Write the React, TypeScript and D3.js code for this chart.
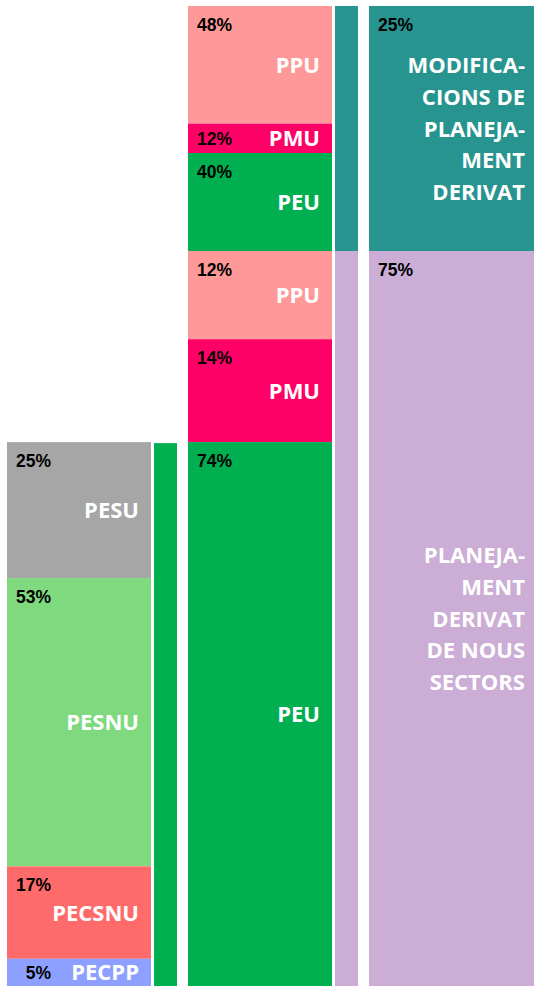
import React from "react";
import * as d3 from "d3";

const topNames = ["MODIFICA-\nCIONS DE\nPLANEJA-\nMENT\nDERIVAT", "PLANEJA-\nMENT\nDERIVAT\nDE NOUS\nSECTORS"];
const topValues = [25, 75];
const topColors = ["#279490", "#CBADD6"];

const midNames = ["PPU", "PMU", "PEU"];
const midValuesMod = [48, 12, 40];
const midValuesNous = [12, 14, 74];
const midColors = ["#FF9999", "#FF0066", "#00B050"];

const leftNames = ["PESU", "PESNU", "PECSNU", "PECPP"];
const leftValues = [25, 53, 17, 5];
const leftColors = ["#A6A6A6", "#7FD97F", "#FF6B6B", "#8EA0FF"];

const W = 534;
const H = 986;

type Seg = { name: string; value: number; color: string; y0: number; y1: number };

function stackSegs(names: string[], values: number[], colors: string[], r0: number, r1: number): Seg[] {
  const total = d3.sum(values);
  const y = d3.scaleLinear().domain([0, total]).range([r0, r1]);
  let acc = 0;
  return values.map((v, i) => {
    const s = { name: names[i], value: v, color: colors[i], y0: y(acc), y1: y(acc + v) };
    acc += v;
    return s;
  });
}

const pctFont = "'Liberation Sans', Arial, sans-serif";
const nameFont = "'Open Sans', sans-serif";

function Column({ segs, x0, x1, showText }: { segs: Seg[]; x0: number; x1: number; showText: boolean }) {
  return (
    <g>
      {segs.map((s, i) => {
        const h = s.y1 - s.y0;
        const cy = (s.y0 + s.y1) / 2;
        const pctY = Math.min(s.y0 + 25, cy + 7);
        const lines = s.name.split("\n");
        const lh = 31.6;
        const firstBase = cy - ((lines.length - 1) * lh) / 2 + 8;
        return (
          <g key={i}>
            <rect x={x0} y={s.y0} width={x1 - x0} height={h} fill={s.color} />
            {showText && (
              <>
                <text x={x0 + 44} y={pctY} textAnchor="end" fontFamily={pctFont} fontWeight="bold" fontSize={17.5} fill="#000">
                  {s.value}%
                </text>
                <text textAnchor="end" fontFamily={nameFont} fontWeight="bold" fontSize={22} fill="#fff">
                  {lines.map((l, j) => (
                    <tspan key={j} x={x1 - 12} y={firstBase + j * lh}>
                      {l}
                    </tspan>
                  ))}
                </text>
              </>
            )}
          </g>
        );
      })}
    </g>
  );
}

export default function App() {
  const yTop = 6;
  const yBot = 986;
  const top = stackSegs(topNames, topValues, topColors, yTop, yBot);
  const midMod = stackSegs(midNames, midValuesMod, midColors, top[0].y0, top[0].y1);
  const midNous = stackSegs(midNames, midValuesNous, midColors, top[1].y0, top[1].y1);
  const peu = midNous[2];
  const left = stackSegs(leftNames, leftValues, leftColors, peu.y0, peu.y1);
  const peuBar: Seg[] = [{ ...peu, name: "", y0: peu.y0 + 1 }];

  return (
    <svg width={W} height={H} style={{ position: "absolute", left: 0, top: 0 }}>
      <rect x={0} y={0} width={W} height={H} fill="#fff" />
      <Column segs={left} x0={7} x1={151} showText={true} />
      <Column segs={peuBar} x0={154} x1={177} showText={false} />
      <Column segs={midMod} x0={188} x1={332} showText={true} />
      <Column segs={midNous} x0={188} x1={332} showText={true} />
      <Column segs={top} x0={335} x1={358} showText={false} />
      <Column segs={top} x0={369} x1={537} showText={true} />
    </svg>
  );
}
